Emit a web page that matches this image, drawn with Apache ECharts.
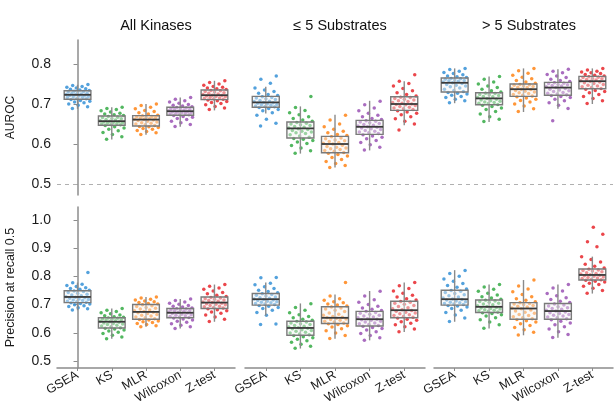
<!DOCTYPE html>
<html><head><meta charset="utf-8">
<script src="https://cdn.jsdelivr.net/npm/echarts@6/dist/echarts.min.js"></script>
<style>html,body{margin:0;padding:0;background:#fff}#c{width:614px;height:412px}</style>
</head><body><div id="c"></div>
<script>
// ---------- data ----------
const methods = ['GSEA', 'KS', 'MLR', 'Wilcoxon', 'Z-test'];
const panelTitles = ['All Kinases', '≤ 5 Substrates', '> 5 Substrates'];
const rowNames = ['AUROC', 'Precision at recall 0.5'];
const aurocTicks = [0.5, 0.6, 0.7, 0.8];
const precisionTicks = [0.5, 0.6, 0.7, 0.8, 0.9, 1.0];
const aurocBaseline = 0.5;

// box stats [lower whisker, Q1, median, Q3, upper whisker] per method
const boxAurocAll = [[0.688,0.712,0.723,0.733,0.748],[0.611,0.647,0.657,0.670,0.692],[0.623,0.645,0.661,0.671,0.700],[0.643,0.672,0.682,0.692,0.716],[0.684,0.711,0.722,0.735,0.758]];
const boxAurocLow = [[0.676,0.692,0.704,0.719,0.743],[0.576,0.615,0.639,0.655,0.694],[0.541,0.578,0.600,0.619,0.673],[0.584,0.624,0.643,0.659,0.708],[0.647,0.684,0.700,0.718,0.757]];
const boxAurocHigh = [[0.702,0.730,0.753,0.765,0.789],[0.655,0.698,0.714,0.728,0.769],[0.680,0.719,0.737,0.750,0.789],[0.688,0.722,0.741,0.754,0.787],[0.700,0.738,0.757,0.769,0.789]];
const boxPrecAll = [[0.680,0.707,0.727,0.749,0.778],[0.579,0.617,0.639,0.653,0.686],[0.621,0.648,0.674,0.700,0.727],[0.615,0.653,0.671,0.686,0.720],[0.639,0.686,0.707,0.727,0.771]];
const boxPrecLow = [[0.660,0.698,0.719,0.739,0.778],[0.544,0.591,0.617,0.641,0.704],[0.579,0.633,0.653,0.692,0.736],[0.573,0.624,0.648,0.676,0.748],[0.603,0.653,0.680,0.712,0.778]];
const boxPrecHigh = [[0.639,0.698,0.719,0.751,0.822],[0.615,0.672,0.692,0.716,0.771],[0.591,0.648,0.686,0.707,0.787],[0.582,0.648,0.677,0.704,0.771],[0.739,0.787,0.805,0.826,0.870]];

// per-kinase points (AUROC, all kinases)
const aurocAll_GSEA = [.689,.693,.697,.700,.703,.705,.707,.709,.711,.713,.714,.716,.717,.718,.719,.720,.721,.722,.723,.724,.725,.726,.727,.728,.730,.731,.732,.734,.735,.737,.738,.740,.742,.744,.746,.749];
const aurocAll_KS = [.612,.618,.624,.629,.633,.637,.640,.643,.646,.648,.649,.650,.651,.652,.653,.654,.655,.656,.657,.658,.660,.661,.663,.664,.666,.667,.669,.671,.673,.675,.677,.680,.683,.686,.689,.692];
const aurocAll_MLR = [.624,.628,.631,.634,.637,.639,.641,.643,.644,.646,.648,.650,.652,.653,.655,.657,.659,.660,.661,.662,.664,.665,.666,.667,.668,.669,.670,.672,.675,.678,.681,.684,.688,.692,.696,.700];
const aurocAll_Wilcoxon = [.644,.649,.653,.657,.661,.664,.667,.669,.671,.673,.674,.675,.676,.677,.678,.679,.680,.681,.682,.683,.685,.686,.687,.688,.689,.690,.691,.693,.695,.697,.699,.702,.705,.708,.712,.716];
const aurocAll_Ztest = [.686,.690,.694,.698,.701,.704,.706,.708,.710,.712,.713,.714,.715,.716,.718,.719,.720,.721,.722,.724,.725,.727,.728,.730,.731,.733,.734,.736,.738,.740,.742,.744,.747,.750,.754,.758];
// AUROC, <= 5 substrates
const aurocLow_GSEA = [.645,.652,.662,.672,.678,.683,.686,.689,.691,.693,.694,.695,.697,.698,.699,.700,.702,.703,.704,.706,.707,.709,.711,.713,.715,.716,.718,.721,.724,.727,.731,.735,.740,.752,.762,.770];
const aurocLow_KS = [.577,.583,.590,.596,.601,.605,.609,.612,.614,.617,.620,.623,.626,.628,.630,.632,.634,.636,.638,.640,.642,.644,.646,.648,.650,.652,.654,.657,.660,.664,.668,.673,.678,.684,.691,.719];
const aurocLow_MLR = [.541,.546,.551,.556,.561,.566,.570,.574,.577,.579,.582,.584,.586,.588,.590,.592,.594,.597,.600,.602,.604,.606,.608,.610,.613,.615,.618,.621,.624,.628,.632,.637,.643,.650,.660,.672];
const aurocLow_Wilcoxon = [.585,.592,.598,.604,.609,.613,.617,.620,.623,.626,.628,.630,.632,.634,.636,.638,.640,.642,.643,.645,.647,.649,.651,.653,.655,.657,.658,.661,.664,.668,.672,.677,.683,.690,.698,.707];
const aurocLow_Ztest = [.635,.650,.657,.663,.668,.673,.677,.680,.683,.686,.688,.690,.692,.694,.696,.698,.699,.700,.702,.704,.706,.708,.710,.712,.714,.716,.717,.720,.724,.728,.733,.739,.745,.751,.757,.773];
// AUROC, > 5 substrates
const aurocHigh_GSEA = [.703,.708,.712,.716,.719,.722,.725,.727,.729,.731,.734,.737,.740,.743,.745,.747,.749,.751,.753,.755,.757,.758,.759,.760,.762,.763,.764,.766,.768,.770,.773,.776,.779,.782,.786,.789];
const aurocHigh_KS = [.656,.662,.668,.675,.681,.686,.690,.694,.697,.699,.701,.702,.704,.705,.707,.708,.710,.712,.714,.716,.718,.719,.721,.723,.724,.726,.727,.730,.733,.737,.741,.745,.750,.755,.762,.769];
const aurocHigh_MLR = [.681,.688,.695,.700,.705,.709,.712,.715,.718,.720,.722,.724,.726,.728,.730,.732,.734,.736,.737,.739,.741,.742,.744,.745,.747,.748,.749,.752,.755,.759,.763,.767,.772,.777,.783,.789];
const aurocHigh_Wilcoxon = [.658,.689,.697,.703,.708,.712,.716,.719,.721,.723,.725,.727,.729,.731,.733,.735,.737,.739,.741,.743,.745,.746,.748,.749,.751,.752,.753,.756,.759,.762,.766,.770,.774,.778,.782,.787];
const aurocHigh_Ztest = [.701,.708,.714,.719,.724,.728,.731,.734,.737,.739,.741,.743,.745,.747,.749,.751,.753,.755,.757,.758,.760,.761,.763,.764,.766,.767,.768,.770,.772,.774,.776,.778,.780,.782,.785,.789];
// Precision at recall 0.5, all kinases
const precAll_GSEA = [.681,.685,.689,.693,.696,.699,.702,.704,.706,.708,.710,.712,.714,.716,.718,.720,.722,.724,.726,.728,.731,.734,.737,.740,.743,.746,.748,.751,.754,.757,.760,.764,.768,.772,.777,.814];
const precAll_KS = [.579,.585,.591,.597,.602,.606,.610,.613,.616,.618,.621,.624,.627,.629,.631,.633,.635,.637,.639,.641,.643,.645,.646,.648,.649,.651,.652,.655,.657,.660,.663,.667,.671,.675,.680,.686];
const precAll_MLR = [.621,.625,.629,.633,.636,.639,.642,.645,.647,.650,.653,.656,.659,.662,.665,.668,.671,.673,.675,.678,.681,.684,.687,.690,.693,.696,.699,.702,.704,.707,.710,.713,.716,.719,.723,.727];
const precAll_Wilcoxon = [.615,.621,.627,.632,.637,.641,.645,.649,.652,.654,.656,.658,.660,.662,.664,.666,.668,.670,.672,.674,.676,.678,.679,.681,.682,.684,.685,.688,.691,.694,.697,.701,.705,.709,.714,.720];
const precAll_Ztest = [.640,.648,.656,.663,.669,.674,.678,.682,.685,.688,.690,.692,.694,.697,.699,.701,.703,.705,.707,.709,.712,.714,.716,.719,.721,.723,.725,.729,.733,.738,.743,.748,.754,.759,.765,.771];
// Precision, <= 5 substrates
const precLow_GSEA = [.629,.631,.662,.672,.680,.686,.690,.694,.697,.700,.702,.704,.706,.708,.710,.712,.714,.716,.718,.720,.722,.724,.727,.730,.733,.736,.738,.742,.746,.751,.757,.763,.770,.776,.795,.796];
const precLow_KS = [.545,.552,.559,.566,.572,.577,.582,.586,.590,.593,.596,.599,.602,.605,.608,.611,.614,.616,.618,.620,.623,.626,.629,.632,.635,.638,.640,.644,.648,.653,.658,.664,.671,.680,.690,.703];
const precLow_MLR = [.580,.590,.599,.607,.614,.620,.625,.629,.632,.635,.638,.641,.644,.647,.649,.651,.653,.655,.658,.662,.666,.670,.675,.680,.684,.688,.691,.695,.698,.702,.706,.710,.715,.721,.730,.778];
const precLow_Wilcoxon = [.573,.582,.590,.597,.604,.610,.615,.619,.623,.626,.629,.632,.635,.638,.641,.644,.646,.648,.650,.653,.656,.659,.662,.666,.669,.672,.675,.679,.683,.688,.694,.700,.708,.717,.730,.747];
const precLow_Ztest = [.604,.613,.621,.628,.634,.639,.644,.648,.652,.655,.658,.661,.664,.667,.670,.673,.676,.679,.682,.685,.689,.693,.697,.701,.705,.708,.711,.716,.721,.727,.733,.740,.748,.757,.767,.778];
// Precision, > 5 substrates
const precHigh_GSEA = [.640,.652,.663,.672,.680,.686,.691,.695,.697,.700,.702,.704,.706,.708,.710,.713,.716,.718,.720,.723,.727,.731,.735,.739,.743,.747,.750,.755,.761,.768,.775,.783,.791,.800,.810,.821];
const precHigh_KS = [.616,.628,.638,.646,.653,.659,.664,.668,.671,.674,.676,.678,.680,.682,.684,.686,.688,.690,.693,.696,.699,.702,.705,.708,.711,.713,.715,.719,.723,.728,.734,.740,.747,.754,.762,.771];
const precHigh_MLR = [.592,.602,.611,.619,.626,.632,.638,.643,.647,.650,.653,.657,.661,.665,.669,.673,.677,.681,.685,.688,.691,.694,.697,.700,.702,.704,.706,.710,.715,.721,.728,.736,.745,.755,.766,.787];
const precHigh_Wilcoxon = [.583,.594,.604,.613,.621,.628,.635,.641,.646,.650,.653,.656,.659,.662,.665,.668,.671,.674,.677,.680,.683,.686,.689,.692,.695,.698,.702,.707,.712,.718,.724,.731,.739,.748,.759,.771];
const precHigh_Ztest = [.740,.750,.758,.765,.771,.776,.780,.783,.786,.788,.790,.792,.794,.796,.798,.800,.802,.804,.806,.808,.810,.813,.816,.819,.821,.823,.825,.830,.836,.843,.851,.860,.870,.905,.923,.949,.974];

// ---------- assembly ----------
const colors = ['#3590d6', '#34aa44', '#ff8415', '#9a52b4', '#e8262b'];
const panelPoints = [
  [aurocAll_GSEA, aurocAll_KS, aurocAll_MLR, aurocAll_Wilcoxon, aurocAll_Ztest],
  [aurocLow_GSEA, aurocLow_KS, aurocLow_MLR, aurocLow_Wilcoxon, aurocLow_Ztest],
  [aurocHigh_GSEA, aurocHigh_KS, aurocHigh_MLR, aurocHigh_Wilcoxon, aurocHigh_Ztest],
  [precAll_GSEA, precAll_KS, precAll_MLR, precAll_Wilcoxon, precAll_Ztest],
  [precLow_GSEA, precLow_KS, precLow_MLR, precLow_Wilcoxon, precLow_Ztest],
  [precHigh_GSEA, precHigh_KS, precHigh_MLR, precHigh_Wilcoxon, precHigh_Ztest]
];
const panelBoxes = [boxAurocAll, boxAurocLow, boxAurocHigh, boxPrecAll, boxPrecLow, boxPrecHigh];

const FONT = '"Liberation Sans", Arial, Helvetica, sans-serif';
const gridLefts = [57, 245, 434];
const gridWidths = [178, 180, 179];
const rowTop = [40, 207];
const rowHeight = [155, 161];
const rowRange = [[0.4725, 0.86], [0.475, 1.046]];
const rowTicks = [aurocTicks, precisionTicks];

// deterministic horizontal jitter (layout only)
const jitter = j => (((j * 0.6180339887 + 0.29) % 1) - 0.5) * 0.72;

const grids = [], xAxes = [], yAxes = [], series = [];
for (let r = 0; r < 2; r++) {
  for (let c = 0; c < 3; c++) {
    const g = r * 3 + c;
    grids.push({ left: gridLefts[c], top: rowTop[r], width: gridWidths[c], height: rowHeight[r], containLabel: false });
    xAxes.push({
      type: 'value', gridIndex: g, min: -0.6, max: 4.6,
      axisLine: { show: r === 1, onZero: false, lineStyle: { color: '#8c8c8c', width: 1.5 } },
      axisTick: { show: r === 1, customValues: [0, 1, 2, 3, 4], length: 3, lineStyle: { color: '#8c8c8c' } },
      axisLabel: {
        show: r === 1, customValues: [0, 1, 2, 3, 4], rotate: 30, margin: 6,
        formatter: v => methods[Math.round(v)], fontSize: 12.5, color: '#1a1a1a', fontFamily: FONT
      },
      splitLine: { show: false }
    });
    yAxes.push({
      type: 'value', gridIndex: g, min: rowRange[r][0], max: rowRange[r][1],
      show: c === 0,
      name: c === 0 ? rowNames[r] : '', nameLocation: 'middle', nameGap: 40,
      nameTextStyle: { fontSize: r === 0 ? 12 : 12.5, color: '#1a1a1a', fontFamily: FONT },
      axisLine: { show: true, lineStyle: { color: '#8c8c8c', width: 1.5 } },
      axisTick: { show: true, customValues: rowTicks[r], length: 4, lineStyle: { color: '#8c8c8c' } },
      axisLabel: { customValues: rowTicks[r], formatter: v => v.toFixed(1), fontSize: 14, color: '#1a1a1a', fontFamily: FONT, margin: 6 },
      splitLine: { show: false }
    });
    // jittered points
    panelPoints[g].forEach((pts, m) => {
      series.push({
        type: 'scatter', xAxisIndex: g, yAxisIndex: g, silent: true, z: 2,
        symbolSize: 3.5,
        itemStyle: { color: colors[m], opacity: 0.85 },
        data: pts.map((v, j) => [m + jitter(j), v])
      });
    });
    // boxes
    const boxSeries = {
      type: 'custom', xAxisIndex: g, yAxisIndex: g, silent: true, z: 3,
      encode: { x: 0, y: [1, 2, 3, 4, 5] },
      data: panelBoxes[g].map((b, m) => [m].concat(b)),
      renderItem: (params, api) => {
        const x = api.value(0);
        const lo = api.coord([x, api.value(1)]);
        const q1 = api.coord([x, api.value(2)]);
        const med = api.coord([x, api.value(3)]);
        const q3 = api.coord([x, api.value(4)]);
        const hi = api.coord([x, api.value(5)]);
        const w = api.size([0.78, 0])[0];
        const cx = lo[0];
        return {
          type: 'group', children: [
            { type: 'line', shape: { x1: cx, y1: hi[1], x2: cx, y2: lo[1] }, style: { stroke: '#8a8a8a', lineWidth: 1.4 } },
            { type: 'rect', shape: { x: cx - w / 2, y: q3[1], width: w, height: q1[1] - q3[1] },
              style: { fill: 'rgba(245,245,245,0.45)', stroke: '#7a7a7a', lineWidth: 1.4 } },
            { type: 'line', shape: { x1: cx - w / 2, y1: med[1], x2: cx + w / 2, y2: med[1] }, style: { stroke: '#3a3a3a', lineWidth: 1.8 } }
          ]
        };
      }
    };
    if (r === 0) {
      boxSeries.markLine = {
        silent: true, symbol: 'none', label: { show: false },
        lineStyle: { type: [4, 4], color: '#b0b0b0', width: 1.2 },
        data: [{ yAxis: aurocBaseline }]
      };
    }
    series.push(boxSeries);
  }
}

const titleCenters = [151, 335, 524];
const chart = echarts.init(document.getElementById('c'), null, { renderer: 'canvas' });
chart.setOption({
  animation: false,
  backgroundColor: '#fff',
  title: panelTitles.map((t, i) => ({
    text: t, left: titleCenters[i], top: 13, textAlign: 'center',
    textStyle: { fontSize: 14.5, fontWeight: 'normal', color: '#111', fontFamily: FONT }
  })),
  grid: grids, xAxis: xAxes, yAxis: yAxes, series: series
});
</script></body></html>
